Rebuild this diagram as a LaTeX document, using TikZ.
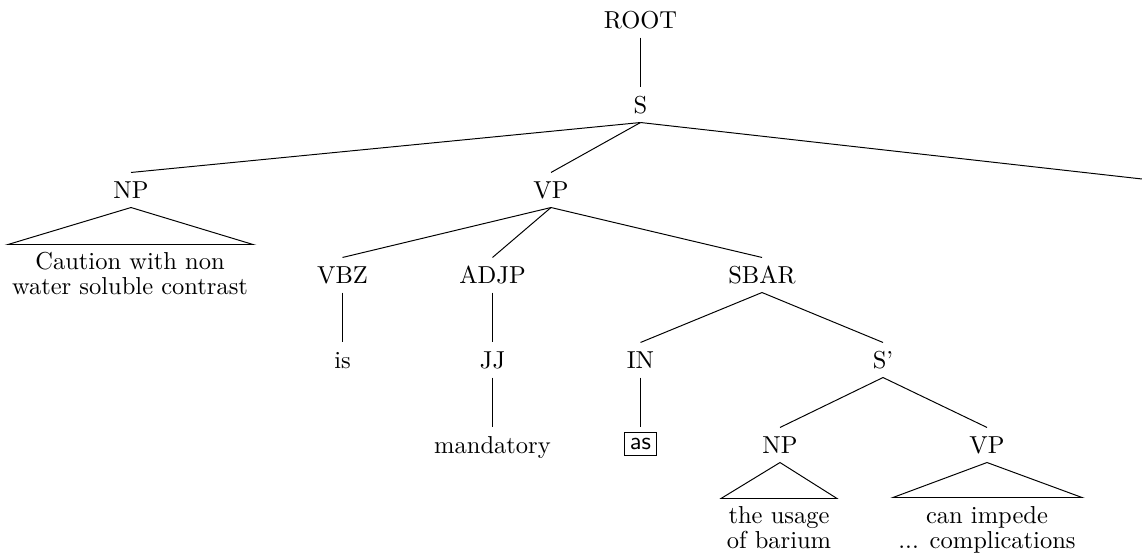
\documentclass[tikz,border=0pt]{standalone}
\begin{document}
\begin{tikzpicture}[x=0.408pt,y=-0.408pt,
  lbl/.style={inner sep=0pt, minimum height=13.9pt, text height=6.8pt, text depth=0pt},
  phr/.style={inner sep=0pt, anchor=north, align=center, font=\fontsize{10}{10.2}\selectfont},
  edge/.style={line width=0.4pt}]
\useasboundingbox (0,0) rectangle (1142,556);
% labels
\node[lbl] (root) at (640.5,20) {ROOT};
\node[lbl] (s) at (640.5,105) {S};
\node[lbl] (np1) at (131,190) {NP};
\node[lbl] (vp1) at (551,190) {VP};
\coordinate (cut) at (1142,179);
\node[lbl] (vbz) at (342.5,275) {VBZ};
\node[lbl] (adjp) at (492.5,275) {ADJP};
\node[lbl] (sbar) at (762,275) {SBAR};
\node[lbl] (is) at (342.5,360) {is};
\node[lbl] (jj) at (492.5,360) {JJ};
\node[lbl] (in) at (640.5,360) {IN};
\node[lbl] (sp) at (883,360) {S'};
\node[lbl] (mand) at (492.5,445) {mandatory};
\node[lbl] (as) at (640.5,441) {\setlength\fboxsep{2pt}\fbox{\sffamily as}};
\node[lbl] (np2) at (780,445) {NP};
\node[lbl] (vp2) at (987,445) {VP};
% phrases
\node[phr] (t1) at (130,252) {Caution with non\\water soluble contrast};
\node[phr] (t2) at (779,506) {the usage\\of barium};
\node[phr] (t3) at (987,506) {can impede\\... complications};
% triangle corners
\coordinate (a1) at (8,244.5);
\coordinate (b1) at (253,244.5);
\coordinate (a2) at (721,498.5);
\coordinate (b2) at (837,498.5);
\coordinate (a3) at (893,497.5);
\coordinate (b3) at (1082,497.5);
% edges
\draw[edge] (root) -- (s);
\draw[edge] (s.south) -- (np1.north);
\draw[edge] (s.south) -- (vp1.north);
\draw[edge] (s.south) -- (cut);
\draw[edge] (np1.south) -- (a1) -- (b1) -- cycle;
\draw[edge] (vp1.south) -- (vbz.north);
\draw[edge] (vp1.south) -- (adjp.north);
\draw[edge] (vp1.south) -- (sbar.north);
\draw[edge] (vbz) -- (is);
\draw[edge] (adjp) -- (jj);
\draw[edge] (jj) -- (mand);
\draw[edge] (sbar.south) -- (in.north);
\draw[edge] (sbar.south) -- (sp.north);
\draw[edge] (in.south) -- ([yshift=-1.5pt]as.north);
\draw[edge] (sp.south) -- (np2.north);
\draw[edge] (sp.south) -- (vp2.north);
\draw[edge] (np2.south) -- (a2) -- (b2) -- cycle;
\draw[edge] (vp2.south) -- (a3) -- (b3) -- cycle;
\end{tikzpicture}
\end{document}
